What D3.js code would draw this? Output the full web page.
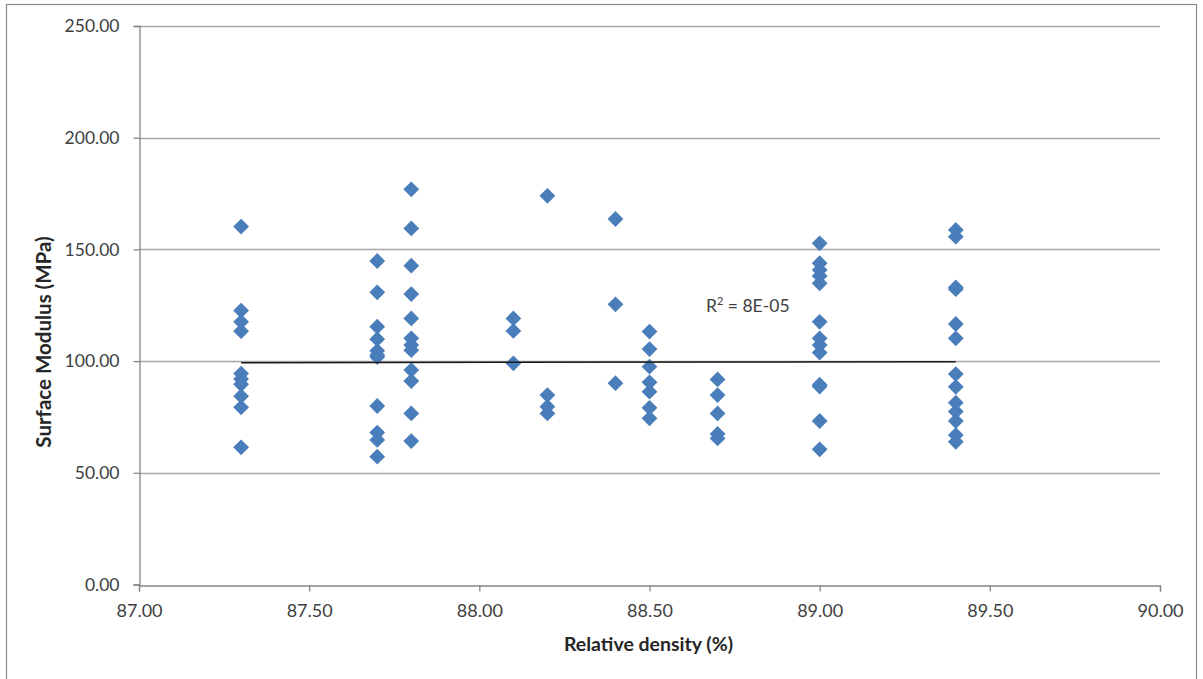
<!DOCTYPE html>
<html>
<head>
<meta charset="utf-8">
<script src="https://cdn.jsdelivr.net/npm/d3@7"></script>
<style>
  html, body { margin: 0; padding: 0; background: #ffffff; }
  svg { display: block; font-family: Lato, "Open Sans", sans-serif; }
</style>
</head>
<body>
<svg id="chart" width="1203" height="679"></svg>
<script>
// Relative density (%) of each specimen group
const densities = [87.3, 87.7, 87.8, 88.1, 88.2, 88.4, 88.5, 88.7, 89.0, 89.4];

// Surface modulus readings (MPa) for each density group
const modulus873 = [160.2, 122.6, 117.6, 113.4, 94.4, 92.0, 89.6, 84.3, 79.3, 61.4];
const modulus877 = [144.8, 130.8, 115.4, 109.8, 104.6, 102.7, 101.8, 79.9, 68.0, 64.7, 57.2];
const modulus878 = [176.9, 159.4, 142.7, 130.0, 119.1, 110.2, 107.2, 104.9, 96.0, 91.1, 76.6, 64.2];
const modulus881 = [119.1, 113.5, 99.0];
const modulus882 = [174.0, 84.8, 79.6, 76.6];
const modulus884 = [163.6, 125.4, 90.1];
const modulus885 = [113.2, 105.4, 97.5, 90.5, 86.3, 79.1, 74.4];
const modulus887 = [91.8, 84.8, 76.6, 67.4, 65.4];
const modulus890 = [152.7, 143.8, 140.8, 138.1, 134.8, 117.6, 110.2, 107.2, 103.8, 89.4, 88.6, 73.2, 60.5];
const modulus894 = [158.7, 155.7, 133.0, 132.2, 116.6, 110.2, 94.2, 88.5, 81.4, 77.4, 73.2, 66.9, 63.9];

const modulusGroups = [modulus873, modulus877, modulus878, modulus881, modulus882,
                       modulus884, modulus885, modulus887, modulus890, modulus894];

// Linear trend line end points and its label
const trendX = [87.3, 89.4];
const trendY = [99.3, 99.7];
const trendLabel = "= 8E-05";

// Axis ticks
const xTicks = [87.0, 87.5, 88.0, 88.5, 89.0, 89.5, 90.0];
const yTicks = [0, 50, 100, 150, 200, 250];

const xTitle = "Relative density (%)";
const yTitle = "Surface Modulus (MPa)";

const svg = d3.select("#chart");
const plot = { left: 139, right: 1160, top: 26, bottom: 584.5 };

const x = d3.scaleLinear().domain([87, 90]).range([plot.left, plot.right]);
const y = d3.scaleLinear().domain([0, 250]).range([plot.bottom, plot.top]);

// outer chart frame
svg.append("rect")
  .attr("x", 6.5).attr("y", 4.5)
  .attr("width", 1190).attr("height", 720)
  .attr("fill", "#fff").attr("stroke", "#8c8c8c").attr("stroke-width", 1.2);

// horizontal gridlines
svg.append("g")
  .selectAll("line")
  .data(yTicks.filter(d => d > 0))
  .join("line")
  .attr("x1", plot.left).attr("x2", plot.right)
  .attr("y1", d => Math.round(y(d)) + 0.5).attr("y2", d => Math.round(y(d)) + 0.5)
  .attr("stroke", "#a6a6a6").attr("stroke-width", 1.3);

const tickColor = "#868686";
const labelColor = "#404040";

// x axis
const xAxis = d3.axisBottom(x).tickValues(xTicks).tickSize(6).tickPadding(13)
  .tickFormat(d3.format(".2f"));
const gx = svg.append("g")
  .attr("transform", `translate(0,${Math.round(plot.bottom) + 0.5})`)
  .call(xAxis);
gx.select(".domain").attr("stroke", tickColor).attr("stroke-width", 1.3);
gx.selectAll(".tick line").attr("stroke", tickColor).attr("stroke-width", 1.3);
gx.selectAll(".tick text")
  .attr("fill", labelColor).style("font-size", "18px").style("font-family", "Lato, sans-serif");

// y axis
const yAxis = d3.axisLeft(y).tickValues(yTicks).tickSize(6).tickPadding(14)
  .tickFormat(d3.format(".2f"));
const gy = svg.append("g")
  .attr("transform", `translate(${plot.left + 0.5},0)`)
  .call(yAxis);
gy.select(".domain").attr("stroke", tickColor).attr("stroke-width", 1.3);
gy.selectAll(".tick line").attr("stroke", tickColor).attr("stroke-width", 1.3);
gy.selectAll(".tick text")
  .attr("fill", labelColor).style("font-size", "17.5px").style("font-family", "Lato, sans-serif");

// axis titles
svg.append("text")
  .attr("x", (plot.left + plot.right) / 2 - 1).attr("y", 651)
  .attr("text-anchor", "middle")
  .attr("fill", "#262626")
  .style("font-size", "19.5px").style("font-weight", "bold")
  .text(xTitle);

svg.append("text")
  .attr("transform", "translate(51,342) rotate(-90)")
  .attr("text-anchor", "middle")
  .attr("fill", "#262626")
  .style("font-size", "20.5px").style("font-weight", "bold")
  .text(yTitle);

// scatter points
const points = [];
densities.forEach((d, i) => modulusGroups[i].forEach(v => points.push({ d, v })));

const diamond = d3.symbol().type(d3.symbolSquare).size(125);
svg.append("g")
  .selectAll("path")
  .data(points)
  .join("path")
  .attr("d", diamond)
  .attr("transform", p => `translate(${x(p.d)},${y(p.v)}) rotate(45)`)
  .attr("fill", "#4a7ebb");

// linear trend line
svg.append("line")
  .attr("x1", x(trendX[0])).attr("y1", y(trendY[0]))
  .attr("x2", x(trendX[1])).attr("y2", y(trendY[1]))
  .attr("stroke", "#1a1a1a").attr("stroke-width", 1.5);

// trend line R² label
const lbl = svg.append("text")
  .attr("x", 706).attr("y", 312)
  .attr("fill", "#404040")
  .style("font-size", "17.5px");
lbl.append("tspan").text("R");
lbl.append("tspan").attr("dy", -7).style("font-size", "11px").text("2");
lbl.append("tspan").attr("dy", 7).text(" " + trendLabel);
</script>
</body>
</html>
